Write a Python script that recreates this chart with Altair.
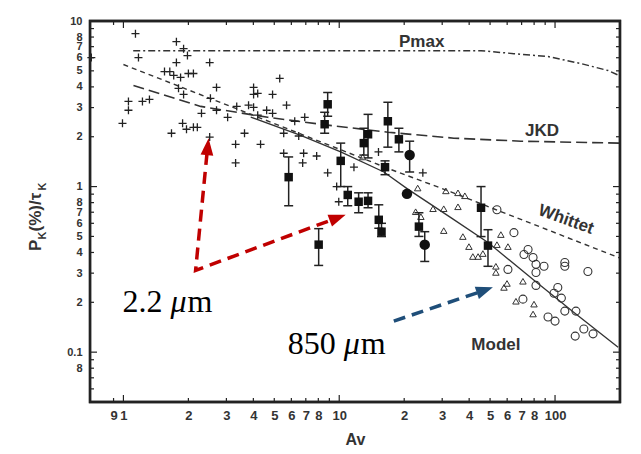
import altair as alt
import pandas as pd

# ---------------- data ----------------
plus_x = [1.137, 1.174, 1.055, 1.055, 1.225, 1.32, 0.99, 1.76, 1.90, 1.98, 1.76, 1.55, 1.64, 1.71,
          1.84, 2.00, 2.11, 1.80, 1.90, 2.30, 2.51, 2.53, 2.70, 2.70, 3.04, 3.35, 1.88, 1.96, 2.11,
          2.20, 1.67, 2.51, 3.31, 3.64, 3.31, 4.01, 4.01, 4.19, 3.80, 4.01, 4.19, 4.32, 4.61, 4.91,
          4.91, 5.30, 5.70, 6.22, 6.92, 5.53, 6.49, 5.53, 6.84, 6.77, 7.86, 0.71, 8.84, 11.7, 15.2,
          9.73, 9.95, 24.4]
plus_y = [8.38, 6.01, 3.27, 2.89, 3.27, 3.36, 2.41, 7.50, 6.81, 6.18, 5.61, 4.95, 4.95, 4.69,
          4.56, 4.82, 4.82, 3.92, 3.60, 2.77, 5.61, 3.41, 3.97, 2.89, 2.62, 3.05, 2.41, 2.22, 2.28,
          2.28, 2.10, 1.99, 1.80, 2.10, 1.39, 3.97, 3.60, 3.65, 3.10, 3.01, 2.70, 1.80, 2.89, 3.60,
          2.77, 4.50, 3.10, 2.48, 2.62, 2.10, 2.02, 1.59, 1.59, 1.39, 1.53, 6.01, 1.21, 1.31, 1.62,
          1.00, 0.81, 1.21]

sq_x = [5.83, 8.03, 8.84, 8.56, 10.16, 10.95, 12.3, 13.6, 13.6, 13.0, 15.25, 15.7, 16.3, 16.8,
        18.9, 23.4, 45.4, 48.9]
sq_y = [1.14, 0.446, 3.14, 2.38, 1.43, 0.89, 0.81, 0.82, 2.07, 1.83, 0.63, 0.534, 1.31, 2.48,
        1.93, 0.573, 0.745, 0.44]
sq_lo = [0.766, 0.334, 2.66, 2.10, 1.00, 0.766, 0.695, 0.745, 1.49, 1.55, 0.56, 0.499, 1.18, 1.73,
         1.62, 0.50, 0.499, 0.33]
sq_hi = [1.51, 0.557, 3.70, 2.81, 1.83, 1.00, 0.917, 0.917, 2.73, 2.25, 0.776, 0.60, 1.43, 3.23,
         2.25, 0.695, 1.00, 0.549]

fc_x = [21.2, 20.6, 24.9]
fc_y = [1.55, 0.904, 0.446]
fc_lo = [1.225, 0.904, 0.353]
fc_hi = [1.88, 0.904, 0.534]

tri_x = [12.85, 23.1, 22.6, 23.9, 31.2, 35.5, 38.2, 27.2, 30.5, 35.5, 30.5, 37.4, 39.9, 41.6, 44.0,
         46.3, 56.1, 53.8, 60.5, 53.2, 53.2, 59.9, 58.0, 71.0, 65.9, 79.9, 79.1]
tri_y = [1.51, 0.98, 0.705, 0.658, 0.942, 0.917, 0.88, 0.735, 0.735, 0.755, 0.542, 0.499, 0.434,
         0.378, 0.378, 0.394, 0.513, 0.446, 0.434, 0.33, 0.303, 0.26, 0.246, 0.268, 0.203, 0.195, 0.17]

oc_x = [53.8, 64.5, 60.5, 75.0, 71.8, 79.1, 81.6, 88.9, 81.6, 111, 111, 142, 81.6, 103, 71.0, 98.9,
        107, 111, 125, 92.8, 100, 124, 136, 150]
oc_y = [0.725, 0.527, 0.316, 0.417, 0.389, 0.373, 0.339, 0.33, 0.303, 0.348, 0.33, 0.307, 0.253,
        0.246, 0.209, 0.227, 0.212, 0.177, 0.177, 0.163, 0.154, 0.125, 0.138, 0.129]

pmax_x = [1.11, 10, 30, 45.4, 64.5, 92.8, 132, 176, 198]
pmax_y = [6.62, 6.62, 6.62, 6.62, 6.35, 6.10, 5.53, 5.02, 4.69]
jkd_x = [1.113, 2.28, 4.66, 8.84, 16.8, 34.0, 69.5, 198]
jkd_y = [4.08, 3.05, 2.62, 2.35, 2.13, 1.96, 1.88, 1.83]
whittet_x = [1.0, 4.19, 17.3, 32.9, 54.0, 200]
whittet_y = [5.46, 2.63, 1.27, 0.93, 0.72, 0.37]
model_x = [3.89, 6.63, 10.16, 16.1, 20.7, 32.9, 48.9, 79.9, 122, 196]
model_y = [2.63, 2.04, 1.62, 1.225, 0.969, 0.649, 0.459, 0.272, 0.174, 0.107]

x_labels = [0.9, 1, 2, 3, 4, 5, 6, 7, 8, 10, 20, 30, 40, 50, 60, 70, 80, 100]
y_labels = [0.08, 0.1, 0.2, 0.3, 0.4, 0.5, 0.6, 0.7, 0.8, 1, 2, 3, 4, 5, 6, 7, 8, 10]
x_major = [1, 10, 100]
x_minor = [0.9, 2, 3, 4, 5, 6, 7, 8, 9, 20, 30, 40, 50, 60, 70, 80, 90]
y_major = [0.1, 1]
y_minor = [0.06, 0.07, 0.08, 0.09, 0.2, 0.3, 0.4, 0.5, 0.6, 0.7, 0.8, 0.9,
           2, 3, 4, 5, 6, 7, 8, 9]

# annotation arrows (data coordinates)
red_path_x = [2.44, 2.16, 9.22]
red_path_y = [1.596, 0.312, 0.629]
red_head_x = [2.459, 9.84]
red_head_y = [1.743, 0.649]
red_head_angle = [5.6, 69.5]
blue_path_x = [17.9, 44.3]
blue_path_y = [0.154, 0.230]
blue_head_x = [47.3]
blue_head_y = [0.237]
blue_head_angle = [71]

# ---------------- chart ----------------
W, H = 530, 381
X_MIN, X_MAX = 0.7, 200
Y_MIN, Y_MAX = 0.05, 10
PX_PER_DEC_X = W / 2.45593      # log10(200/0.7)
PX_PER_DEC_Y = H / 2.30103      # log10(10/0.05)
FONT = "Liberation Sans"
INK = "#222"
XS = alt.Scale(type="log", domain=[X_MIN, X_MAX], nice=False)
YS = alt.Scale(type="log", domain=[Y_MIN, Y_MAX], nice=False)

x_lab_expr = ("datum.value == 1 ? '1' : datum.value == 10 ? '10' : datum.value == 100 ? '100' : "
              "(datum.value < 1 ? round(datum.value*10) : datum.value < 10 ? round(datum.value) : "
              "round(datum.value/10)) + ''")
y_lab_expr = ("datum.value == 0.1 ? '0.1' : datum.value == 1 ? '1' : datum.value == 10 ? '10' : "
              "(datum.value < 0.1 ? round(datum.value*100) : datum.value < 1 ? round(datum.value*10) : "
              "round(datum.value)) + ''")

X_AXIS = alt.Axis(values=x_labels, labelExpr=x_lab_expr, ticks=False, domain=False, grid=False,
                  labelFont=FONT, labelFontWeight="bold", labelFontSize=13, labelColor="#333",
                  labelPadding=7, labelOverlap=False, labelFlush=False,
                  title="Av", titleFont=FONT, titleFontWeight="bold", titleFontSize=16,
                  titleColor="#333", titlePadding=9)
Y_AXIS = alt.Axis(values=y_labels, labelExpr=y_lab_expr, ticks=False, domain=False, grid=False,
                  labelFont=FONT, labelFontWeight="bold", labelFontSize=11, labelColor="#333",
                  labelPadding=8, labelOverlap=False, labelFlush=False, title="")


def X(f="x"):
    return alt.X(f"{f}:Q", scale=XS, axis=X_AXIS)


def Y(f="y"):
    return alt.Y(f"{f}:Q", scale=YS, axis=Y_AXIS)


def xy():
    return dict(x=X(), y=Y())


layers = []

# inward ticks on all four sides, as short two-point segments (a hair inside the domain)
EPS = 1.0005
rows = []
gid = 0
for vals, L in ((x_major, 7), (x_minor, 4)):
    fy = 10 ** (L / PX_PER_DEC_Y)
    for v in vals:
        rows += [dict(x=v, y=Y_MIN * EPS, g=gid), dict(x=v, y=Y_MIN * fy, g=gid)]
        gid += 1
        rows += [dict(x=v, y=Y_MAX / EPS, g=gid), dict(x=v, y=Y_MAX / fy, g=gid)]
        gid += 1
for vals, L in ((y_major, 7), (y_minor, 4)):
    fx = 10 ** (L / PX_PER_DEC_X)
    for v in vals:
        rows += [dict(x=X_MIN * EPS, y=v, g=gid), dict(x=X_MIN * fx, y=v, g=gid)]
        gid += 1
        rows += [dict(x=X_MAX / EPS, y=v, g=gid), dict(x=X_MAX / fx, y=v, g=gid)]
        gid += 1
dticks = pd.DataFrame(rows)
layers.append(alt.Chart(dticks).mark_line(color=INK, strokeWidth=1.2).encode(
    **xy(), detail="g:N"))

# curves
curve_specs = [
    (pmax_x, pmax_y, [7, 3, 2, 3], 1.5),
    (jkd_x, jkd_y, [11, 5], 1.6),
    (whittet_x, whittet_y, [5, 4], 1.4),
    (model_x, model_y, None, 1.3),
]
for cx, cy, dash, sw in curve_specs:
    d = pd.DataFrame({"x": cx, "y": cy})
    kw = dict(color="#333", strokeWidth=sw)
    if dash:
        kw["strokeDash"] = dash
    layers.append(alt.Chart(d).mark_line(**kw).encode(**xy()))

# plus signs
dplus = pd.DataFrame({"x": plus_x, "y": plus_y})
layers.append(alt.Chart(dplus).mark_point(shape="M-1,0H1M0,-1V1", filled=False, size=64,
                                           strokeWidth=1.3, color="#222", opacity=1)
              .encode(**xy()))

# open triangles & open circles
dtri = pd.DataFrame({"x": tri_x, "y": tri_y})
layers.append(alt.Chart(dtri).mark_point(shape="triangle-up", filled=False, size=42, strokeWidth=1,
                                          color="#333", opacity=1).encode(**xy()))
doc = pd.DataFrame({"x": oc_x, "y": oc_y})
layers.append(alt.Chart(doc).mark_point(shape="circle", filled=False, size=64, strokeWidth=1.1,
                                         color="#333", opacity=1).encode(**xy()))

# error bars
derr = pd.DataFrame({"x": sq_x + fc_x, "lo": sq_lo + fc_lo, "hi": sq_hi + fc_hi})
layers.append(alt.Chart(derr).mark_rule(color="#222", strokeWidth=1.5).encode(
    x=X(), y=Y("lo"), y2="hi:Q"))
for f in ("lo", "hi"):
    layers.append(alt.Chart(derr).mark_point(shape="M-1,0H1", filled=False, size=81,
                                             strokeWidth=1.5, color="#222", opacity=1).encode(
        x=X(), y=Y(f)))

dsq = pd.DataFrame({"x": sq_x, "y": sq_y})
layers.append(alt.Chart(dsq).mark_point(shape="square", filled=True, size=72, color="#111",
                                         opacity=1).encode(**xy()))
dfc = pd.DataFrame({"x": fc_x, "y": fc_y})
layers.append(alt.Chart(dfc).mark_point(shape="circle", filled=True, size=110, color="#111",
                                         opacity=1).encode(**xy()))

# curve labels
lab_style = dict(font=FONT, fontWeight="bold", fontSize=17, color="#333")
for txt, lx, ly, ang in (("Pmax", 24.1, 7.5, 0), ("JKD", 87.0, 2.16, 0),
                         ("Whittet", 112.5, 0.631, 20), ("Model", 53.2, 0.110, 0)):
    d = pd.DataFrame({"x": [lx], "y": [ly], "t": [txt]})
    layers.append(alt.Chart(d).mark_text(align="center", baseline="middle", angle=ang,
                                         **lab_style).encode(**xy(), text="t:N"))

# annotation arrows
RED, BLUE = "#c00000", "#1f4e79"
dred = pd.DataFrame({"x": red_path_x, "y": red_path_y, "i": list(range(len(red_path_x)))})
layers.append(alt.Chart(dred).mark_line(color=RED, strokeWidth=3.5, strokeDash=[12, 7]).encode(
    **xy(), order="i:Q"))
dblue = pd.DataFrame({"x": blue_path_x, "y": blue_path_y, "i": list(range(len(blue_path_x)))})
layers.append(alt.Chart(dblue).mark_line(color=BLUE, strokeWidth=3.5, strokeDash=[12, 7]).encode(
    **xy(), order="i:Q"))
HEAD = "M0,-1L0.75,1L-0.75,1Z"
for hx, hy, ha, col in ((red_head_x, red_head_y, red_head_angle, RED),
                        (blue_head_x, blue_head_y, blue_head_angle, BLUE)):
    d = pd.DataFrame({"x": hx, "y": hy, "a": ha})
    layers.append(alt.Chart(d).mark_point(shape=HEAD, filled=True, size=289, color=col,
                                           opacity=1, strokeWidth=0).encode(
        **xy(), angle=alt.Angle("a:Q", scale=None)))

# annotation texts "2.2 μm" and "850 μm"
SERIF = "Liberation Serif"
for num, ax_, ay_, w in (("2.2", 0.989, 0.174, 48), ("850", 5.77, 0.0975, 56)):
    d = pd.DataFrame({"x": [ax_], "y": [ay_], "a": [num], "b": ["μ"], "c": ["m"]})
    base = dict(font=SERIF, fontSize=32, color="black", align="left", baseline="alphabetic")
    layers.append(alt.Chart(d).mark_text(**base).encode(**xy(), text="a:N"))
    layers.append(alt.Chart(d).mark_text(dx=w, fontStyle="italic", **base).encode(**xy(), text="b:N"))
    layers.append(alt.Chart(d).mark_text(dx=w + 17, **base).encode(**xy(), text="c:N"))

# y-axis title P_K(%)/τ_K built from pieces
pieces = [("P", 230.0, -49, 17), ("K", 218.5, -44, 11), ("(%)/τ", 210.5, -49, 17),
          ("K", 169.5, -44, 11)]
for txt, py, px, fs in pieces:
    d = pd.DataFrame({"t": [txt]})
    layers.append(alt.Chart(d).mark_text(angle=270, align="left", baseline="alphabetic", font=FONT,
                                         fontWeight="bold", fontSize=fs, color="#333").encode(
        x=alt.value(px), y=alt.value(py), text="t:N"))

# plot frame: closed line through the four domain corners (a hair inside)
fx0, fx1 = X_MIN * EPS, X_MAX / EPS
fy0, fy1 = Y_MIN * EPS, Y_MAX / EPS
dframe = pd.DataFrame({"x": [fx0, fx1, fx1, fx0, fx0],
                       "y": [fy0, fy0, fy1, fy1, fy0],
                       "i": [0, 1, 2, 3, 4]})
layers.append(alt.Chart(dframe).mark_line(color=INK, strokeWidth=2.4, strokeCap="square",
                                          strokeJoin="miter").encode(**xy(), order="i:Q"))

chart = alt.layer(*layers).properties(
    width=W, height=H, autosize="none", background="white",
    padding={"left": 82, "top": 13, "right": 12, "bottom": 44},
).configure_view(stroke=INK, strokeWidth=2.4)

chart.save("out.html", embed_options={"renderer": "svg", "actions": False})
